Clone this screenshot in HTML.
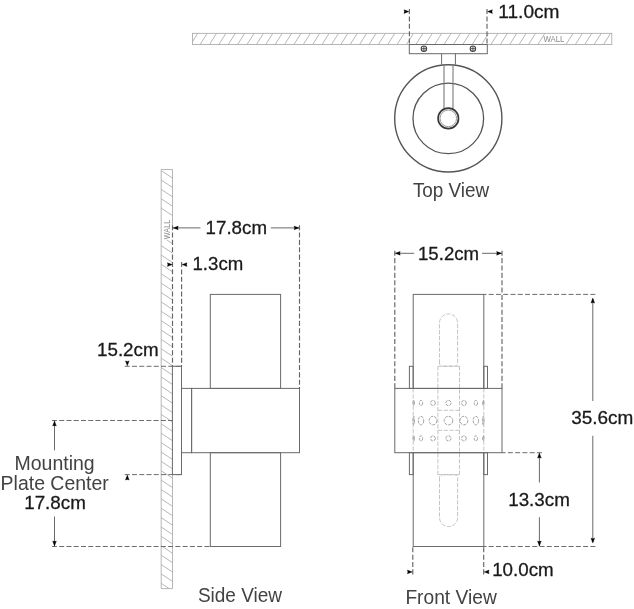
<!DOCTYPE html>
<html lang="en">
<head>
<meta charset="utf-8">
<title>Wall sconce dimension drawing</title>
<style>
html,body{margin:0;padding:0;background:#fff;}
body{width:634px;height:609px;overflow:hidden;font-family:"Liberation Sans",sans-serif;}
svg{display:block;filter:blur(0.4px);}
.l{fill:none;stroke:#6a6a6a;stroke-width:1;}
.m{stroke:#7a7a7a;stroke-width:1.1;}
.d{fill:none;stroke:#646464;stroke-width:1.15;stroke-dasharray:5.05 2.31;}
.dh{stroke:#6c6c6c;stroke-width:1;stroke-dasharray:5.0 2.26;}
.h{fill:none;stroke:#a4a4a4;stroke-width:.8;}
.g{fill:none;stroke:#b0b0b0;stroke-width:.75;stroke-dasharray:4.2 1.6;}
.p{fill:none;stroke:#8c8c8c;stroke-width:.8;stroke-dasharray:3 1;}
.a{fill:#000;stroke:#000;stroke-width:.35;stroke-linejoin:miter;}
.t{font-family:"Liberation Sans",sans-serif;font-size:19.0px;fill:#1a1a1a;stroke:#1a1a1a;stroke-width:.3;}
.b{font-family:"Liberation Sans",sans-serif;font-size:20.1px;fill:#424242;}
.w{font-family:"Liberation Sans",sans-serif;font-size:8.4px;fill:#8a8a8a;}
</style>
</head>
<body>
<svg width="634" height="609" viewBox="0 0 634 609" role="img" aria-label="Dimension drawing: top view, side view and front view">
<rect x="0" y="0" width="634" height="609" fill="#fff"/>
<g id="top-view">
<clipPath id="cw1"><rect x="192.4" y="33.3" width="419.4" height="11.200000000000003"/></clipPath>
<g clip-path="url(#cw1)">
<line class="h" x1="190.72" y1="44.50" x2="197.82" y2="33.30"/>
<line class="h" x1="200.10" y1="44.50" x2="207.20" y2="33.30"/>
<line class="h" x1="209.48" y1="44.50" x2="216.58" y2="33.30"/>
<line class="h" x1="218.86" y1="44.50" x2="225.96" y2="33.30"/>
<line class="h" x1="228.24" y1="44.50" x2="235.34" y2="33.30"/>
<line class="h" x1="237.63" y1="44.50" x2="244.73" y2="33.30"/>
<line class="h" x1="247.01" y1="44.50" x2="254.11" y2="33.30"/>
<line class="h" x1="256.39" y1="44.50" x2="263.49" y2="33.30"/>
<line class="h" x1="265.77" y1="44.50" x2="272.87" y2="33.30"/>
<line class="h" x1="275.15" y1="44.50" x2="282.25" y2="33.30"/>
<line class="h" x1="284.53" y1="44.50" x2="291.63" y2="33.30"/>
<line class="h" x1="293.91" y1="44.50" x2="301.01" y2="33.30"/>
<line class="h" x1="303.30" y1="44.50" x2="310.40" y2="33.30"/>
<line class="h" x1="312.68" y1="44.50" x2="319.78" y2="33.30"/>
<line class="h" x1="322.06" y1="44.50" x2="329.16" y2="33.30"/>
<line class="h" x1="331.44" y1="44.50" x2="338.54" y2="33.30"/>
<line class="h" x1="340.82" y1="44.50" x2="347.92" y2="33.30"/>
<line class="h" x1="350.20" y1="44.50" x2="357.30" y2="33.30"/>
<line class="h" x1="359.58" y1="44.50" x2="366.68" y2="33.30"/>
<line class="h" x1="368.97" y1="44.50" x2="376.07" y2="33.30"/>
<line class="h" x1="378.35" y1="44.50" x2="385.45" y2="33.30"/>
<line class="h" x1="387.73" y1="44.50" x2="394.83" y2="33.30"/>
<line class="h" x1="397.11" y1="44.50" x2="404.21" y2="33.30"/>
<line class="h" x1="406.49" y1="44.50" x2="413.59" y2="33.30"/>
<line class="h" x1="415.87" y1="44.50" x2="422.97" y2="33.30"/>
<line class="h" x1="425.25" y1="44.50" x2="432.35" y2="33.30"/>
<line class="h" x1="434.63" y1="44.50" x2="441.73" y2="33.30"/>
<line class="h" x1="444.02" y1="44.50" x2="451.12" y2="33.30"/>
<line class="h" x1="453.40" y1="44.50" x2="460.50" y2="33.30"/>
<line class="h" x1="462.78" y1="44.50" x2="469.88" y2="33.30"/>
<line class="h" x1="472.16" y1="44.50" x2="479.26" y2="33.30"/>
<line class="h" x1="481.54" y1="44.50" x2="488.64" y2="33.30"/>
<line class="h" x1="490.92" y1="44.50" x2="498.02" y2="33.30"/>
<line class="h" x1="500.30" y1="44.50" x2="507.40" y2="33.30"/>
<line class="h" x1="509.69" y1="44.50" x2="516.79" y2="33.30"/>
<line class="h" x1="519.07" y1="44.50" x2="526.17" y2="33.30"/>
<line class="h" x1="528.45" y1="44.50" x2="535.55" y2="33.30"/>
<line class="h" x1="537.83" y1="44.50" x2="544.93" y2="33.30"/>
<line class="h" x1="565.97" y1="44.50" x2="573.07" y2="33.30"/>
<line class="h" x1="575.36" y1="44.50" x2="582.46" y2="33.30"/>
<line class="h" x1="584.74" y1="44.50" x2="591.84" y2="33.30"/>
<line class="h" x1="594.12" y1="44.50" x2="601.22" y2="33.30"/>
<line class="h" x1="603.50" y1="44.50" x2="610.60" y2="33.30"/>
<line class="h" x1="612.88" y1="44.50" x2="619.98" y2="33.30"/>
</g>
<rect class="h" x="192.40" y="33.30" width="419.40" height="11.20"/>
<text class="w" x="543.40" y="42.20" textLength="21.00" lengthAdjust="spacingAndGlyphs">WALL</text>
<rect class="l" x="409.30" y="44.50" width="78.00" height="9.20"/>
<circle cx="423.9" cy="48.7" r="2.7" fill="#fff" stroke="#444" stroke-width="1.1"/>
<path d="M421.5,48.7 H426.29999999999995 M423.9,46.3 V51.1" fill="none" stroke="#444" stroke-width=".9"/>
<circle cx="472.9" cy="48.7" r="2.7" fill="#fff" stroke="#444" stroke-width="1.1"/>
<path d="M470.5,48.7 H475.29999999999995 M472.9,46.3 V51.1" fill="none" stroke="#444" stroke-width=".9"/>
<line class="l" x1="441.60" y1="53.70" x2="441.60" y2="64.60"/>
<line class="l" x1="455.40" y1="53.70" x2="455.40" y2="64.60"/>
<circle class="l" cx="448.3" cy="118.4" r="53.6" style="stroke-width:1.4;stroke:#555"/>
<circle class="l" cx="448.3" cy="118.4" r="35.3" style="stroke-width:1.3;stroke:#555"/>
<line class="l m" x1="444.00" y1="64.80" x2="444.00" y2="108.50"/>
<line class="l m" x1="453.00" y1="64.80" x2="453.00" y2="108.50"/>
<circle cx="448.3" cy="118.4" r="10.2" fill="#fff" stroke="#383838" stroke-width="1.7"/>
<circle cx="448.3" cy="118.4" r="8.3" fill="none" stroke="#9a9a9a" stroke-width="1"/>
<line class="d" x1="409.40" y1="9.05" x2="409.40" y2="44.50"/>
<line class="d" x1="487.00" y1="9.05" x2="487.00" y2="44.50"/>
<polygon class="a" points="408.90,11.60 404.00,9.75 404.49,11.60 404.00,13.45"/>
<polygon class="a" points="487.50,11.60 492.40,9.75 491.91,11.60 492.40,13.45"/>
<text class="t" x="498.30" y="17.60" textLength="61.20" lengthAdjust="spacingAndGlyphs">11.0cm</text>
<text class="b" x="412.90" y="197.40" textLength="76.30" lengthAdjust="spacingAndGlyphs">Top View</text>
</g>
<g id="side-view">
<clipPath id="cw2"><rect x="161.2" y="169.5" width="11.300000000000011" height="419.1"/></clipPath>
<g clip-path="url(#cw2)">
<line class="h" x1="161.20" y1="161.22" x2="172.50" y2="168.72"/>
<line class="h" x1="161.20" y1="170.60" x2="172.50" y2="178.10"/>
<line class="h" x1="161.20" y1="179.98" x2="172.50" y2="187.48"/>
<line class="h" x1="161.20" y1="189.36" x2="172.50" y2="196.86"/>
<line class="h" x1="161.20" y1="198.74" x2="172.50" y2="206.24"/>
<line class="h" x1="161.20" y1="208.12" x2="172.50" y2="215.62"/>
<line class="h" x1="166.80" y1="239.91" x2="172.50" y2="243.76"/>
<line class="h" x1="161.20" y1="245.64" x2="172.50" y2="253.14"/>
<line class="h" x1="161.20" y1="255.02" x2="172.50" y2="262.52"/>
<line class="h" x1="161.20" y1="264.40" x2="172.50" y2="271.90"/>
<line class="h" x1="161.20" y1="273.77" x2="172.50" y2="281.27"/>
<line class="h" x1="161.20" y1="283.15" x2="172.50" y2="290.65"/>
<line class="h" x1="161.20" y1="292.53" x2="172.50" y2="300.03"/>
<line class="h" x1="161.20" y1="301.91" x2="172.50" y2="309.41"/>
<line class="h" x1="161.20" y1="311.29" x2="172.50" y2="318.79"/>
<line class="h" x1="161.20" y1="320.67" x2="172.50" y2="328.17"/>
<line class="h" x1="161.20" y1="330.05" x2="172.50" y2="337.55"/>
<line class="h" x1="161.20" y1="339.43" x2="172.50" y2="346.93"/>
<line class="h" x1="161.20" y1="348.81" x2="172.50" y2="356.31"/>
<line class="h" x1="161.20" y1="358.19" x2="172.50" y2="365.69"/>
<line class="h" x1="161.20" y1="367.57" x2="172.50" y2="375.07"/>
<line class="h" x1="161.20" y1="376.95" x2="172.50" y2="384.45"/>
<line class="h" x1="161.20" y1="386.33" x2="172.50" y2="393.83"/>
<line class="h" x1="161.20" y1="395.71" x2="172.50" y2="403.21"/>
<line class="h" x1="161.20" y1="405.09" x2="172.50" y2="412.59"/>
<line class="h" x1="161.20" y1="414.47" x2="172.50" y2="421.97"/>
<line class="h" x1="161.20" y1="423.85" x2="172.50" y2="431.35"/>
<line class="h" x1="161.20" y1="433.23" x2="172.50" y2="440.73"/>
<line class="h" x1="161.20" y1="442.61" x2="172.50" y2="450.11"/>
<line class="h" x1="161.20" y1="451.99" x2="172.50" y2="459.49"/>
<line class="h" x1="161.20" y1="461.37" x2="172.50" y2="468.87"/>
<line class="h" x1="161.20" y1="470.75" x2="172.50" y2="478.25"/>
<line class="h" x1="161.20" y1="480.12" x2="172.50" y2="487.62"/>
<line class="h" x1="161.20" y1="489.50" x2="172.50" y2="497.00"/>
<line class="h" x1="161.20" y1="498.88" x2="172.50" y2="506.38"/>
<line class="h" x1="161.20" y1="508.26" x2="172.50" y2="515.76"/>
<line class="h" x1="161.20" y1="517.64" x2="172.50" y2="525.14"/>
<line class="h" x1="161.20" y1="527.02" x2="172.50" y2="534.52"/>
<line class="h" x1="161.20" y1="536.40" x2="172.50" y2="543.90"/>
<line class="h" x1="161.20" y1="545.78" x2="172.50" y2="553.28"/>
<line class="h" x1="161.20" y1="555.16" x2="172.50" y2="562.66"/>
<line class="h" x1="161.20" y1="564.54" x2="172.50" y2="572.04"/>
<line class="h" x1="161.20" y1="573.92" x2="172.50" y2="581.42"/>
<line class="h" x1="161.20" y1="583.30" x2="172.50" y2="590.80"/>
<line class="h" x1="161.20" y1="592.68" x2="172.50" y2="600.18"/>
</g>
<path class="h" d="M172.5,225 V169.5 H161.2 V588.6 H172.5 V474.6"/>
<text class="w" transform="translate(169.7,239.2) rotate(-90)" font-size="8" textLength="19.4" lengthAdjust="spacingAndGlyphs">WALL</text>
<rect class="l" x="210.30" y="294.40" width="70.30" height="94.00"/>
<rect class="l" x="210.30" y="452.70" width="70.30" height="93.80"/>
<rect class="l" x="191.60" y="388.40" width="107.90" height="64.30"/>
<rect class="l" x="181.50" y="388.40" width="10.10" height="64.30"/>
<rect class="l" x="172.40" y="366.30" width="9.10" height="108.30"/>
<line class="l" x1="172.80" y1="227.90" x2="200.50" y2="227.90"/>
<line class="l" x1="270.80" y1="227.90" x2="299.50" y2="227.90"/>
<polygon class="a" points="173.30,227.90 178.20,226.05 177.71,227.90 178.20,229.75"/>
<polygon class="a" points="299.00,227.90 294.10,226.05 294.59,227.90 294.10,229.75"/>
<text class="t" x="205.60" y="234.40" textLength="61.40" lengthAdjust="spacingAndGlyphs">17.8cm</text>
<line class="d" x1="172.50" y1="225.15" x2="172.50" y2="366.30"/>
<line class="d" x1="299.50" y1="225.15" x2="299.50" y2="388.40"/>
<line class="d" x1="181.60" y1="262.05" x2="181.60" y2="366.30"/>
<polygon class="a" points="172.30,264.60 167.40,262.75 167.89,264.60 167.40,266.45"/>
<polygon class="a" points="182.10,264.60 187.00,262.75 186.51,264.60 187.00,266.45"/>
<text class="t" x="192.50" y="270.40" textLength="50.70" lengthAdjust="spacingAndGlyphs">1.3cm</text>
<line class="d dh" x1="124.75" y1="366.30" x2="181.50" y2="366.30"/>
<polygon class="a" points="127.30,365.80 125.45,360.90 127.30,361.39 129.15,360.90"/>
<text class="t" x="97.00" y="355.90" textLength="61.60" lengthAdjust="spacingAndGlyphs">15.2cm</text>
<line class="d dh" x1="124.75" y1="474.60" x2="181.50" y2="474.60"/>
<polygon class="a" points="127.30,475.10 125.45,480.00 127.30,479.51 129.15,480.00"/>
<line class="d dh" x1="51.95" y1="420.50" x2="172.80" y2="420.50"/>
<line class="d dh" x1="51.95" y1="546.50" x2="210.30" y2="546.50"/>
<line class="l" x1="54.50" y1="420.50" x2="54.50" y2="450.30"/>
<line class="l" x1="54.50" y1="516.50" x2="54.50" y2="546.50"/>
<polygon class="a" points="54.50,421.00 52.65,425.90 54.50,425.41 56.35,425.90"/>
<polygon class="a" points="54.50,546.00 52.65,541.10 54.50,541.59 56.35,541.10"/>
<text class="b" x="14.50" y="470.20" textLength="80.20" lengthAdjust="spacingAndGlyphs">Mounting</text>
<text class="b" x="0.60" y="489.50" textLength="108.20" lengthAdjust="spacingAndGlyphs">Plate Center</text>
<text class="t" x="24.20" y="509.30" textLength="61.60" lengthAdjust="spacingAndGlyphs">17.8cm</text>
<text class="b" x="197.90" y="602.10" textLength="84.10" lengthAdjust="spacingAndGlyphs">Side View</text>
</g>
<g id="front-view">
<path class="g" d="M439.5,363.3 L439.5,322.95 A9.05,9.05 0 0 1 457.6,322.95 L457.6,363.3 Q457.6,365.5 454.8,366.1 L442.3,366.1 Q439.5,365.5 439.5,363.3 Z"/>
<path class="g" d="M439.5,477.6 L439.5,517.5500000000001 A9.05,9.05 0 0 0 457.6,517.5500000000001 L457.6,477.6 Q457.6,475.40000000000003 454.8,474.8 L442.3,474.8 Q439.5,475.40000000000003 439.5,477.6 Z"/>
<path class="g" d="M437.9,366.3 H459.5 M437.9,474.6 H459.5 M437.9,410.3 H459.5 M437.9,430.3 H459.5"/>
<line class="g" x1="437.90" y1="366.30" x2="437.90" y2="474.60"/>
<line class="g" x1="459.50" y1="366.30" x2="459.50" y2="474.60"/>
<line class="g" x1="413.20" y1="388.40" x2="413.20" y2="452.70"/>
<line class="g" x1="483.80" y1="388.40" x2="483.80" y2="452.70"/>
<ellipse class="p" cx="413.69" cy="403.0" rx="0.70" ry="2.6"/>
<ellipse class="p" cx="421.02" cy="403.0" rx="1.64" ry="2.6"/>
<ellipse class="p" cx="432.98" cy="403.0" rx="2.34" ry="2.6"/>
<ellipse class="p" cx="448.45" cy="403.0" rx="2.60" ry="2.6"/>
<ellipse class="p" cx="463.92" cy="403.0" rx="2.34" ry="2.6"/>
<ellipse class="p" cx="475.88" cy="403.0" rx="1.64" ry="2.6"/>
<ellipse class="p" cx="483.21" cy="403.0" rx="0.70" ry="2.6"/>
<ellipse class="p" cx="413.69" cy="420.6" rx="0.75" ry="4.3"/>
<ellipse class="p" cx="421.02" cy="420.6" rx="2.71" ry="4.3"/>
<ellipse class="p" cx="432.98" cy="420.6" rx="3.86" ry="4.3"/>
<ellipse class="p" cx="448.45" cy="420.6" rx="4.30" ry="4.3"/>
<ellipse class="p" cx="463.92" cy="420.6" rx="3.86" ry="4.3"/>
<ellipse class="p" cx="475.88" cy="420.6" rx="2.71" ry="4.3"/>
<ellipse class="p" cx="483.21" cy="420.6" rx="0.75" ry="4.3"/>
<ellipse class="p" cx="413.69" cy="438.4" rx="0.70" ry="2.6"/>
<ellipse class="p" cx="421.02" cy="438.4" rx="1.64" ry="2.6"/>
<ellipse class="p" cx="432.98" cy="438.4" rx="2.34" ry="2.6"/>
<ellipse class="p" cx="448.45" cy="438.4" rx="2.60" ry="2.6"/>
<ellipse class="p" cx="463.92" cy="438.4" rx="2.34" ry="2.6"/>
<ellipse class="p" cx="475.88" cy="438.4" rx="1.64" ry="2.6"/>
<ellipse class="p" cx="483.21" cy="438.4" rx="0.70" ry="2.6"/>
<rect class="l" x="413.20" y="294.40" width="70.60" height="94.00"/>
<rect class="l" x="413.20" y="452.70" width="70.60" height="93.80"/>
<rect class="l" x="394.80" y="388.40" width="107.20" height="64.30"/>
<rect class="l" x="409.40" y="366.30" width="3.80" height="22.10"/>
<rect class="l" x="483.80" y="366.30" width="3.70" height="22.10"/>
<rect class="l" x="409.40" y="452.70" width="3.80" height="21.90"/>
<rect class="l" x="483.80" y="452.70" width="3.70" height="21.90"/>
<line class="l" x1="394.80" y1="253.30" x2="414.20" y2="253.30"/>
<line class="l" x1="482.00" y1="253.30" x2="502.00" y2="253.30"/>
<polygon class="a" points="395.30,253.30 400.20,251.45 399.71,253.30 400.20,255.15"/>
<polygon class="a" points="501.50,253.30 496.60,251.45 497.09,253.30 496.60,255.15"/>
<text class="t" x="418.00" y="259.50" textLength="61.10" lengthAdjust="spacingAndGlyphs">15.2cm</text>
<line class="d" x1="394.80" y1="250.75" x2="394.80" y2="388.40"/>
<line class="d" x1="502.00" y1="250.75" x2="502.00" y2="388.40"/>
<line class="d dh" x1="595.35" y1="294.40" x2="483.80" y2="294.40"/>
<line class="d dh" x1="595.35" y1="546.50" x2="483.80" y2="546.50"/>
<line class="d dh" x1="541.95" y1="452.70" x2="502.00" y2="452.70"/>
<line class="l" x1="592.80" y1="299.00" x2="592.80" y2="401.00"/>
<line class="l" x1="592.80" y1="435.80" x2="592.80" y2="542.00"/>
<polygon class="a" points="592.80,298.10 590.95,303.00 592.80,302.51 594.65,303.00"/>
<polygon class="a" points="592.80,543.10 590.95,538.20 592.80,538.69 594.65,538.20"/>
<text class="t" x="571.20" y="424.10" textLength="62.20" lengthAdjust="spacingAndGlyphs">35.6cm</text>
<line class="l" x1="539.40" y1="453.00" x2="539.40" y2="482.50"/>
<line class="l" x1="539.40" y1="517.20" x2="539.40" y2="546.00"/>
<polygon class="a" points="539.40,453.20 537.55,458.10 539.40,457.61 541.25,458.10"/>
<polygon class="a" points="539.40,546.00 537.55,541.10 539.40,541.59 541.25,541.10"/>
<text class="t" x="508.20" y="505.60" textLength="61.70" lengthAdjust="spacingAndGlyphs">13.3cm</text>
<line class="d" x1="412.80" y1="574.40" x2="412.80" y2="546.50"/>
<line class="d" x1="483.70" y1="574.40" x2="483.70" y2="546.50"/>
<polygon class="a" points="412.30,571.90 407.40,570.05 407.89,571.90 407.40,573.75"/>
<polygon class="a" points="484.20,571.90 489.10,570.05 488.61,571.90 489.10,573.75"/>
<text class="t" x="492.20" y="576.30" textLength="61.40" lengthAdjust="spacingAndGlyphs">10.0cm</text>
<text class="b" x="405.40" y="603.80" textLength="91.40" lengthAdjust="spacingAndGlyphs">Front View</text>
</g>
</svg>
</body>
</html>
